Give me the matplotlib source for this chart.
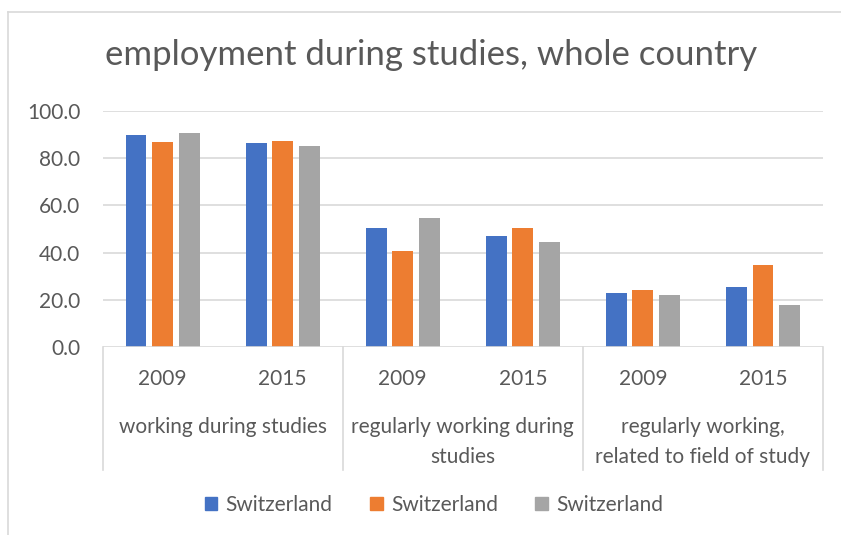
import matplotlib
matplotlib.use("Agg")
import matplotlib.pyplot as plt
import numpy as np
from matplotlib.patches import Rectangle
from matplotlib.lines import Line2D

groups = ["working during studies", "regularly working during\nstudies", "regularly working,\nrelated to field of study"]
years = ["2009", "2015"]
series_names = ["Switzerland", "Switzerland", "Switzerland"]
blue_vals = [89.6, 86.2, 50.4, 47.2, 22.8, 25.6]
orange_vals = [86.6, 87.1, 40.7, 50.4, 24.4, 34.8]
gray_vals = [90.4, 85.2, 54.5, 44.5, 22.1, 18.0]
yticks = [0, 20, 40, 60, 80, 100]
title = "employment during studies, whole country"

colors = ["#4472C4", "#ED7D31", "#A5A5A5"]
txt = "#595959"
grid = "#D9D9D9"
plt.rcParams['font.family'] = ['Lato', 'DejaVu Sans']
fs = 15

W, H = 841, 535
fig = plt.figure(figsize=(W/100, H/100), dpi=100)
# chart border (left and top visible)
fig.lines.append(Line2D([8/W, 8/W], [0, 1-12/H], transform=fig.transFigure, color=grid, linewidth=1.2))
fig.lines.append(Line2D([8/W, 1], [1-12/H, 1-12/H], transform=fig.transFigure, color=grid, linewidth=1.2))

left, right = 102.5/W, 823/W
bottom, top = 1-347.3/H, 1-110.7/H
ax = fig.add_axes([left, bottom, right-left, top-bottom])

n = len(blue_vals)
x = np.arange(n) + 0.5
pitch = 0.221
bw = 0.174
for i, vals in enumerate([blue_vals, orange_vals, gray_vals]):
    ax.bar(x + (i-1)*pitch, vals, width=bw, color=colors[i], label=series_names[i], zorder=3)

ax.set_xlim(0, n)
ax.set_ylim(0, 100)
ax.set_yticks(yticks)
ax.set_yticklabels([f"{v:.1f}" for v in yticks], color=txt, fontsize=fs)
ax.tick_params(axis='y', length=0, pad=16)
ax.set_xticks([])
for s in ax.spines.values():
    s.set_visible(False)
for v in yticks[1:]:
    ax.axhline(v, color=grid, linewidth=1.2, zorder=1)
ax.axhline(0, color=grid, linewidth=1.2, zorder=4)

for xs in [0, 2, 4, 6]:
    ax.plot([xs, xs], [0, -52], color=grid, linewidth=1.2, clip_on=False)

for i in range(n):
    ax.text(x[i], -13.4, years[i % 2], ha='center', va='center', color=txt, fontsize=fs)
for g in range(len(groups)):
    ax.text(2*g+1, -29.4, groups[g], ha='center', va='top', color=txt, fontsize=fs,
            linespacing=1.62)

fig.text(105/W, 1-55/H, title, ha='left', va='center', color=txt, fontsize=25)

handles = [Rectangle((0, 0), 1, 1, color=c) for c in colors]
fig.legend(handles, series_names, loc='center', bbox_to_anchor=(434/W, 1-505/H), ncol=3,
           frameon=False, fontsize=fs, handlelength=0.6, handleheight=0.6,
           handletextpad=0.4, columnspacing=1.8, labelcolor=txt)

fig.savefig("out.png", dpi=100)
